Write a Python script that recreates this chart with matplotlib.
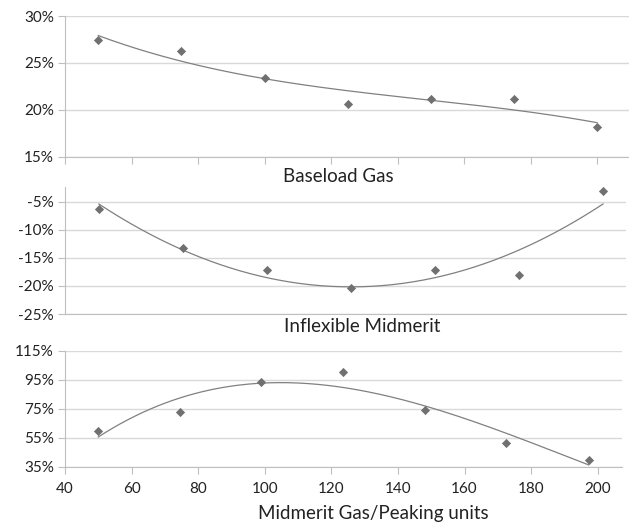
import numpy as np
import matplotlib.pyplot as plt
from matplotlib.ticker import FuncFormatter

plt.rcParams['font.family'] = ['Lato', 'DejaVu Sans']

# units on the x axis for each panel
x_base = [50, 75, 100, 125, 150, 175, 200]
x_inflex = [50.2, 75.5, 100.8, 126.0, 151.3, 176.5, 201.8]
x_mid = [50, 74.5, 99, 123.5, 148, 172.5, 197.3]

# values (%)
y_base = [27.4, 26.3, 23.4, 20.6, 21.1, 21.1, 18.1]
y_inflex = [-6.25, -13.3, -17.2, -20.3, -17.2, -18.0, -3.1]
y_mid = [59.6, 73.1, 93.3, 100.7, 74.5, 51.3, 39.6]

W, H = 629, 524
fig = plt.figure(figsize=(W / 100, H / 100), dpi=100)

def box(l, t, r, b):
    return [l / W, 1 - b / H, (r - l) / W, (b - t) / H]

grid_c = '#d9d9d9'
axis_c = '#bfbfbf'
mark_c = '#707070'
line_c = '#808080'

def panel(rect, xs, ys, deg, xmax, ylim, yticks, xticklabels, xticks_on):
    ax = fig.add_axes(rect)
    ax.scatter(xs, ys, marker='D', s=22, color=mark_c, zorder=3, linewidths=0)
    c = np.polyfit(xs, ys, deg)
    xx = np.linspace(min(xs), max(xs), 200)
    ax.plot(xx, np.polyval(c, xx), color=line_c, lw=0.9, zorder=2)
    ax.set_xlim(40, xmax)
    ax.set_ylim(*ylim)
    ax.set_yticks(yticks)
    ax.yaxis.set_major_formatter(FuncFormatter(lambda v, p: '%d%%' % v))
    ax.set_xticks(np.arange(40, 201, 20))
    ax.grid(axis='y', color=grid_c, lw=1)
    ax.set_axisbelow(True)
    for s in ['top', 'right']:
        ax.spines[s].set_visible(False)
    for s in ['left', 'bottom']:
        ax.spines[s].set_color(axis_c)
    ax.tick_params(axis='y', colors=axis_c, labelcolor='#222222', labelsize=11, length=5, pad=3)
    ax.tick_params(axis='x', colors=axis_c, labelcolor='#222222', labelsize=11,
                   length=5 if xticks_on else 0, labelbottom=xticklabels, pad=6)
    return ax

panel(box(65, 16, 629, 156.5), x_base, y_base, 3, 209.6, (15, 30), [15, 20, 25, 30], False, True)
fig.text(338 / W, 1 - 177 / H, 'Baseload Gas', ha='center', va='center', fontsize=13.5, color='#222222')

panel(box(65, 187, 626, 314), x_inflex, y_inflex, 2, 208.7, (-25, -2.4), [-25, -20, -15, -10, -5], False, False)
fig.text(362 / W, 1 - 326 / H, 'Inflexible Midmerit', ha='center', va='center', fontsize=13.5, color='#222222')

panel(box(65, 351, 622, 466.7), x_mid, y_mid, 3, 207.3, (35, 115), [35, 55, 75, 95, 115], True, True)
fig.text(373 / W, 1 - 513 / H, 'Midmerit Gas/Peaking units', ha='center', va='center', fontsize=13.5, color='#222222')

fig.savefig('out.png', dpi=100)
